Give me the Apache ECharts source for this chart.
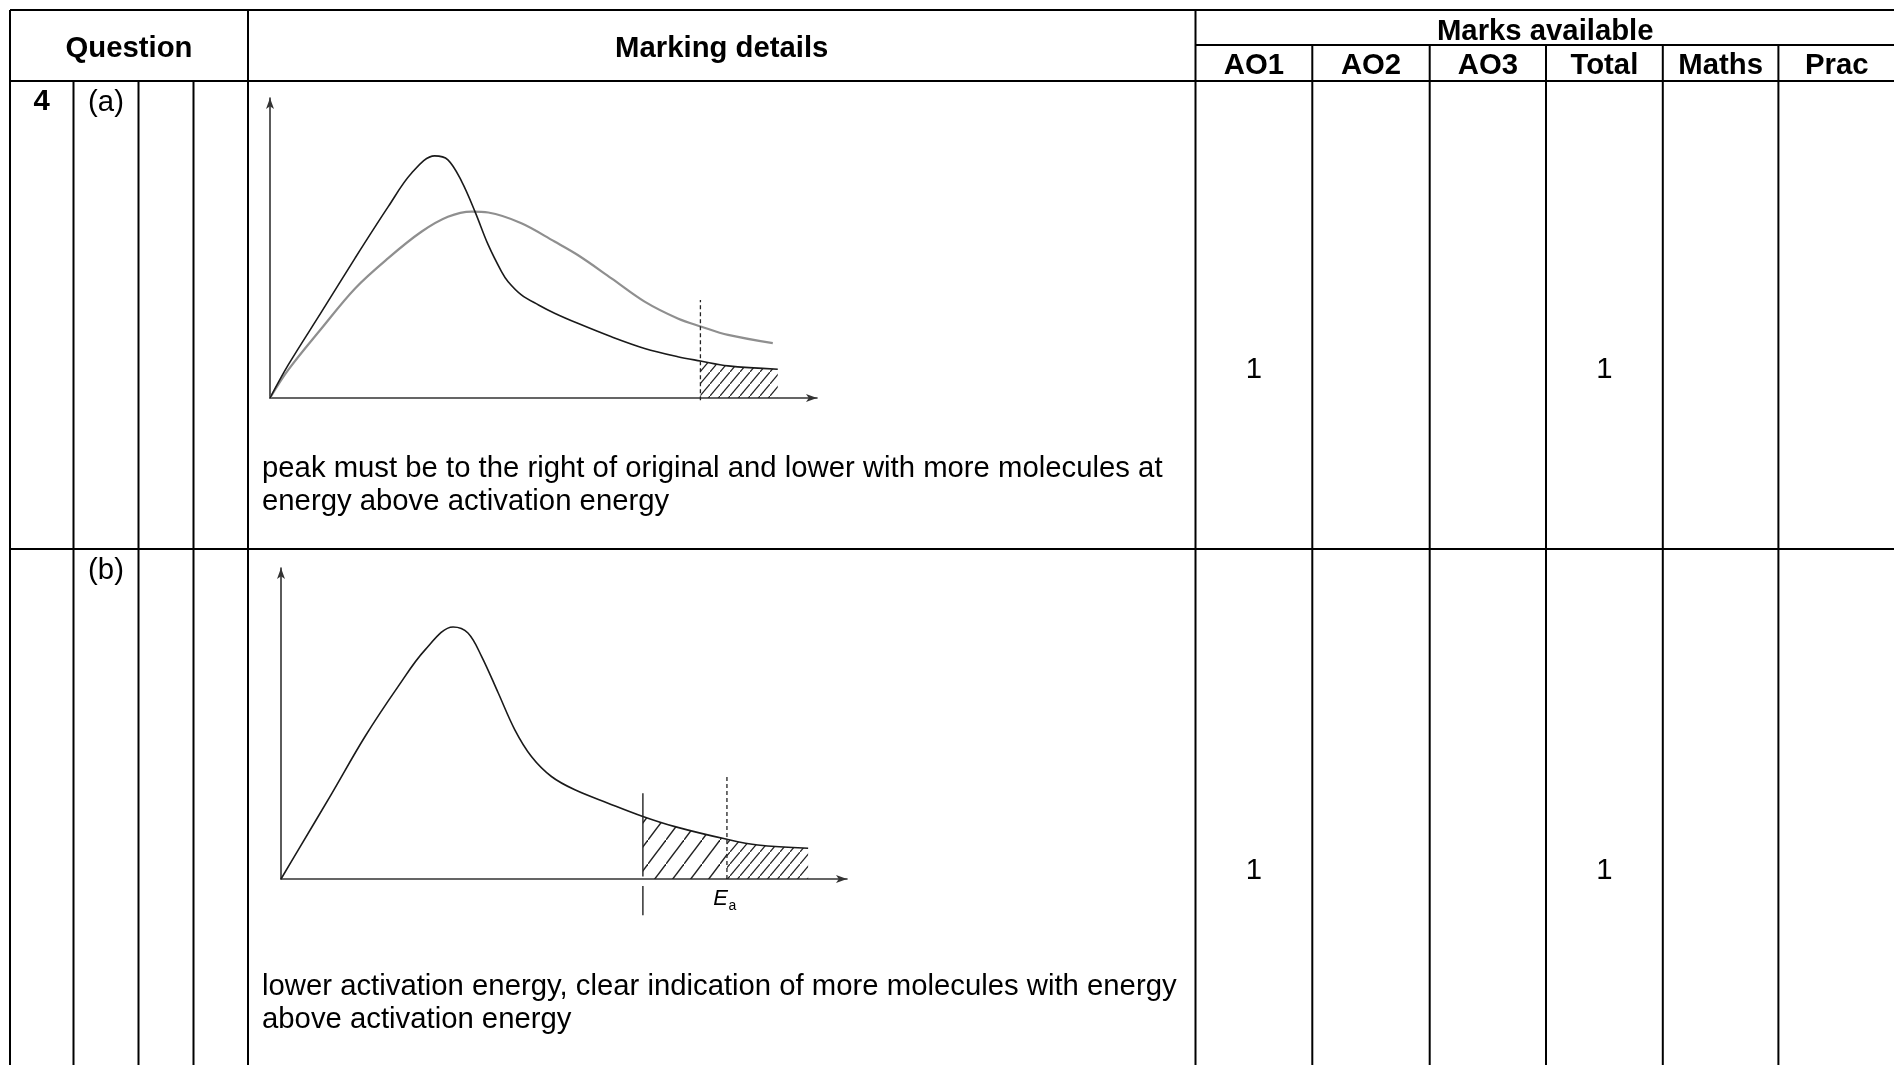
<!DOCTYPE html>
<html>
<head>
<meta charset="utf-8">
<script src="https://cdn.jsdelivr.net/npm/echarts@6/dist/echarts.min.js"></script>
<style>
html,body{margin:0;padding:0;background:#fff;}
#c{width:1894px;height:1065px;}
</style>
</head>
<body>
<div id="c"></div>
<script>
// ---- data ----
// (a) original distribution (black) and higher-temperature distribution (grey): [energy, number of molecules]
const curveA_black = [[0,0],[3.3,10.8],[9.35,28.2],[15.4,45.7],[21.4,62.5],[25.6,73.4],[29.8,79.1],[32.2,77.8],[34.7,70.7],[37.1,60.9],[39.5,50],[41.9,41.3],[43.1,38],[45.5,33.7],[48.6,30.4],[51.5,27.7],[55.7,24.4],[61.8,20],[67.8,16.2],[73.8,13.5],[77.9,12.1],[82.9,10.5],[91.9,9.4]];
const curveA_grey = [[0,0],[3.3,9.2],[9.35,22.8],[15.4,35.8],[21.4,45.7],[27.4,54.3],[32.2,59.2],[36.5,60.9],[39.5,60.6],[45.5,57.1],[51.5,51.1],[55.7,46.7],[61.8,39.1],[67.8,31.5],[73.8,26],[78.1,23.3],[82.9,20.6],[91,17.9]];
const eaA = 77.9;              // activation energy (dashed line) in (a)
const eaA_lineRange = [-0.7, 32];
// (b) distribution with catalyst
const curveB = [[0,0],[3.0,9.1],[8.9,27],[14.7,44.9],[20.5,60.7],[25.2,72.2],[30.1,79.4],[32.7,77.5],[35.1,70.1],[38,58.6],[40.9,47],[43.8,38.6],[47.3,32.3],[51.4,28.1],[57.2,23.9],[63.3,19.7],[68.9,16.5],[78,12.5],[83.4,10.7],[92.2,9.7]];
const eaB = 78;                // original Ea (dashed) in (b)
const eaB_lineRange = [0, 32.5];
const eaB_new = 63.3;          // lowered Ea (solid) in (b)
const eaB_newRanges = [[0.8, 27], [-2.2, -11.4]];
const eaLabel = ['E', 'a'];

// table texts
const headTop = ['Question', 'Marking details', 'Marks available'];
const headSub = ['AO1', 'AO2', 'AO3', 'Total', 'Maths', 'Prac'];
const rowA = {num: '4', part: '(a)', text: ['peak must be to the right of original and lower with more molecules at', 'energy above activation energy'], marks: {AO1: '1', Total: '1'}};
const rowB = {num: '', part: '(b)', text: ['lower activation energy, clear indication of more molecules with energy', 'above activation energy'], marks: {AO1: '1', Total: '1'}};

// ---- layout ----
const W = 1894, H = 1065;
const FONT = "'Liberation Sans', Arial, sans-serif";
const FS = 29.3;
const colX = [10, 73.5, 138.5, 193.5, 248, 1195.5, 1312.3, 1429.7, 1546, 1662.8, 1778.4, 1895];
const yTop = 10, ySub = 45, yHead = 81, yRow = 549;

function makeHatch(w, h, lw) {
  const cv = document.createElement('canvas');
  cv.width = w; cv.height = h;
  const ctx = cv.getContext('2d');
  ctx.strokeStyle = '#222';
  ctx.lineWidth = lw;
  ctx.beginPath();
  ctx.moveTo(-w * 0.5, h * 1.5);
  ctx.lineTo(w * 1.5, -h * 0.5);
  ctx.stroke();
  return {image: cv, repeat: 'repeat'};
}
const hatchDense = makeHatch(10, 12, 1.2);
const hatchSparse = makeHatch(18, 24, 1.4);

const chart = echarts.init(document.getElementById('c'), null, {renderer: 'canvas'});

const axisLine = {show: true, symbol: ['none', 'arrow'], symbolSize: [6, 11], lineStyle: {color: '#333', width: 1.6}};
function xAx(i) { return {type: 'value', gridIndex: i, min: 0, max: 99, axisLine: axisLine, axisTick: {show: false}, axisLabel: {show: false}, splitLine: {show: false}}; }
function yAx(i) { return {type: 'value', gridIndex: i, min: 0, max: 98, axisLine: axisLine, axisTick: {show: false}, axisLabel: {show: false}, splitLine: {show: false}}; }

const blackLine = {color: '#1a1a1a', width: 1.6};
const base = {type: 'line', symbol: 'none', silent: true, animation: false};
const SM = 0.35;

const series = [
  Object.assign({}, base, {xAxisIndex: 0, yAxisIndex: 0, smooth: SM, data: curveA_black.filter(p => p[0] >= eaA), lineStyle: {width: 0}, areaStyle: {color: hatchDense, opacity: 1}, z: 1}),
  Object.assign({}, base, {xAxisIndex: 0, yAxisIndex: 0, smooth: SM, data: curveA_grey, lineStyle: {color: '#8f8f8f', width: 2.2}, z: 2}),
  Object.assign({}, base, {xAxisIndex: 0, yAxisIndex: 0, smooth: SM, data: curveA_black, lineStyle: blackLine, z: 3}),
  Object.assign({}, base, {xAxisIndex: 0, yAxisIndex: 0, clip: false, data: eaA_lineRange.map(v => [eaA, v]), lineStyle: {color: '#222', width: 1.3, type: [4, 3]}, z: 4}),

  Object.assign({}, base, {xAxisIndex: 1, yAxisIndex: 1, smooth: SM, data: curveB.filter(p => p[0] >= eaB_new && p[0] <= eaB), lineStyle: {width: 0}, areaStyle: {color: hatchSparse, opacity: 1}, z: 1}),
  Object.assign({}, base, {xAxisIndex: 1, yAxisIndex: 1, smooth: SM, data: curveB.filter(p => p[0] >= eaB), lineStyle: {width: 0}, areaStyle: {color: hatchDense, opacity: 1}, z: 1}),
  Object.assign({}, base, {xAxisIndex: 1, yAxisIndex: 1, smooth: SM, data: curveB, lineStyle: blackLine, z: 3}),
  Object.assign({}, base, {xAxisIndex: 1, yAxisIndex: 1, clip: false, data: eaB_lineRange.map(v => [eaB, v]), lineStyle: {color: '#222', width: 1.3, type: [4, 3]}, z: 4})
].concat(eaB_newRanges.map(r => Object.assign({}, base, {xAxisIndex: 1, yAxisIndex: 1, clip: false, data: r.map(v => [eaB_new, v]), lineStyle: {color: '#222', width: 1.4}, z: 4})));

chart.setOption({
  animation: false,
  backgroundColor: '#fff',
  grid: [
    {left: 270, top: 98, width: 547, height: 300, containLabel: false},
    {left: 281, top: 568, width: 566, height: 311, containLabel: false}
  ],
  xAxis: [xAx(0), xAx(1)],
  yAxis: [yAx(0), yAx(1)],
  series: series
});

// ---- table drawn as graphic elements ----
const G = [];
function line(x1, y1, x2, y2, w) {
  G.push({type: 'line', silent: true, z: 10, shape: {x1: x1, y1: y1, x2: x2, y2: y2}, style: {stroke: '#000', lineWidth: w || 2}});
}
function text(t, x, y, opt) {
  opt = opt || {};
  G.push({type: 'text', silent: true, z: 11, style: {text: t, x: x, y: y, fill: '#000',
    font: (opt.italic ? 'italic ' : '') + (opt.bold ? 'bold ' : '') + (opt.size || FS) + 'px ' + FONT,
    align: opt.align || 'center', verticalAlign: opt.va || 'middle'}});
}
// horizontals
line(colX[0], yTop, W, yTop);
line(colX[5], ySub, W, ySub);
line(colX[0], yHead, W, yHead);
line(colX[0], yRow, W, yRow);
// verticals
[0, 4, 5].forEach(i => line(colX[i], yTop, colX[i], H));
[1, 2, 3].forEach(i => line(colX[i], yHead, colX[i], H));
[6, 7, 8, 9, 10].forEach(i => line(colX[i], ySub, colX[i], H));

// header texts
text(headTop[0], (colX[0] + colX[4]) / 2, 48.5, {bold: true});
text(headTop[1], (colX[4] + colX[5]) / 2, 48.5, {bold: true});
text(headTop[2], (colX[5] + colX[11]) / 2, 31.5, {bold: true});
headSub.forEach((h, i) => text(h, (colX[5 + i] + colX[6 + i]) / 2, 65.5, {bold: true}));

function rowTexts(r, top, textY, markY) {
  if (r.num) text(r.num, (colX[0] + colX[1]) / 2, top + 21, {bold: true});
  text(r.part, (colX[1] + colX[2]) / 2, top + 21.5);
  r.text.forEach((t, i) => text(t, 262, textY + i * 33, {align: 'left'}));
  Object.keys(r.marks).forEach(k => {
    const ci = headSub.indexOf(k);
    text(r.marks[k], (colX[5 + ci] + colX[6 + ci]) / 2, markY);
  });
}
rowTexts(rowA, yHead, 468.5, 370);
rowTexts(rowB, yRow, 986.5, 871);

// E_a label placed from axis coordinates
const p = chart.convertToPixel({xAxisIndex: 1, yAxisIndex: 1}, [eaB, 0]);
text(eaLabel[0], p[0] + 1, p[1] + 31, {italic: true, size: 22, align: 'right', va: 'bottom'});
text(eaLabel[1], p[0] + 1.5, p[1] + 34, {size: 14, align: 'left', va: 'bottom'});

chart.setOption({graphic: {elements: G}});
</script>
</body>
</html>
